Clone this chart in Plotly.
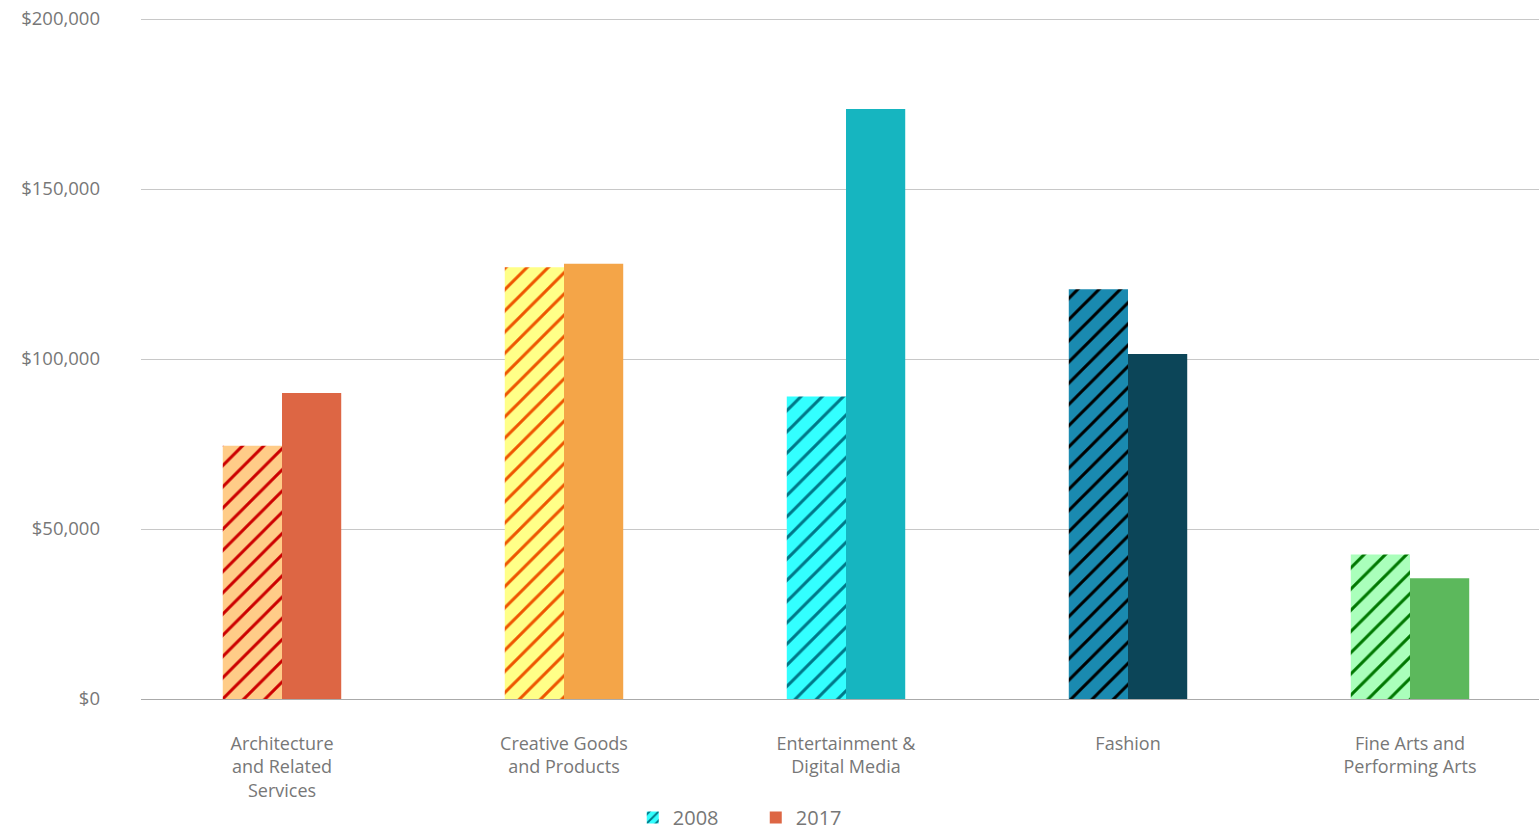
import plotly.graph_objects as go

categories = ["Architecture<br>and Related<br>Services", "Creative Goods<br>and Products",
              "Entertainment &<br>Digital Media", "Fashion", "Fine Arts and<br>Performing Arts"]
values_2008 = [74500, 127000, 89000, 120500, 42500]
values_2017 = [90000, 128000, 173500, 101500, 35500]

fill_2008 = ["#FFCC88", "#FFFF88", "#33FFFF", "#1A8AB0", "#AAFFBB"]
stripe_2008 = ["#CC0000", "#EE5500", "#007788", "#000000", "#007700"]
fill_2017 = ["#DD6644", "#F4A548", "#16B5C0", "#0C4558", "#5CB85C"]

tick_vals = [0, 50000, 100000, 150000, 200000]
tick_text = ["$0", "$50,000", "$100,000", "$150,000", "$200,000"]

FONT = "'Open Sans', Lato, sans-serif"

fig = go.Figure()
for i, cat in enumerate(categories):
    fig.add_trace(go.Bar(
        x=[cat], y=[values_2008[i]], name="2008", showlegend=False,
        offsetgroup="2008", legendgroup="2008",
        marker=dict(color=fill_2008[i], line=dict(width=0),
                    pattern=dict(shape="/", fgcolor=stripe_2008[i], bgcolor=fill_2008[i],
                                 fgopacity=1, size=15, solidity=0.2, fillmode="overlay")),
    ))
    fig.add_trace(go.Bar(
        x=[cat], y=[values_2017[i]], name="2017", showlegend=False,
        offsetgroup="2017", legendgroup="2017",
        marker=dict(color=fill_2017[i], line=dict(width=0)),
    ))

# legend entries
fig.add_trace(go.Bar(
    x=[categories[0]], y=[None], name="2008", showlegend=True,
    offsetgroup="2008", legendgroup="2008",
    marker=dict(color="#33FFFF", line=dict(width=0),
                pattern=dict(shape="/", fgcolor="#007788", bgcolor="#33FFFF",
                             fgopacity=1, size=8, solidity=0.3, fillmode="overlay")),
))
fig.add_trace(go.Bar(
    x=[categories[0]], y=[None], name="2017", showlegend=True,
    offsetgroup="2017", legendgroup="2017",
    marker=dict(color="#DD6644", line=dict(width=0)),
))

fig.update_layout(
    width=1551, height=830, autosize=False,
    margin=dict(l=141, r=0, t=17, b=131, autoexpand=False),
    paper_bgcolor="white", plot_bgcolor="white",
    barmode="group", bargap=0.58, bargroupgap=0,
    font=dict(family=FONT, size=18, color="#777777"),
    legend=dict(orientation="h", x=0.436, xanchor="center", y=-0.145, yanchor="top",
                font=dict(family=FONT, size=20, color="#777777"),
                entrywidth=78, itemwidth=30, traceorder="normal"),
    xaxis=dict(showgrid=False, showline=False, ticks="", ticklabelstandoff=32,
               tickfont=dict(family=FONT, size=18, color="#777777")),
    yaxis=dict(range=[0, 200590], tickvals=tick_vals, ticktext=tick_text,
               showgrid=True, gridcolor="#C8C8C8", gridwidth=1,
               zeroline=True, zerolinecolor="#AAAAAA", zerolinewidth=1,
               ticks="", ticklabelstandoff=40, showline=False, ticklabeloverflow="allow",
               tickfont=dict(family=FONT, size=18.5, color="#777777")),
)

fig.write_html("out.html",
               config={"displayModeBar": False, "responsive": False},
               post_script="document.body.style.margin='0';document.body.style.overflow='hidden';")
